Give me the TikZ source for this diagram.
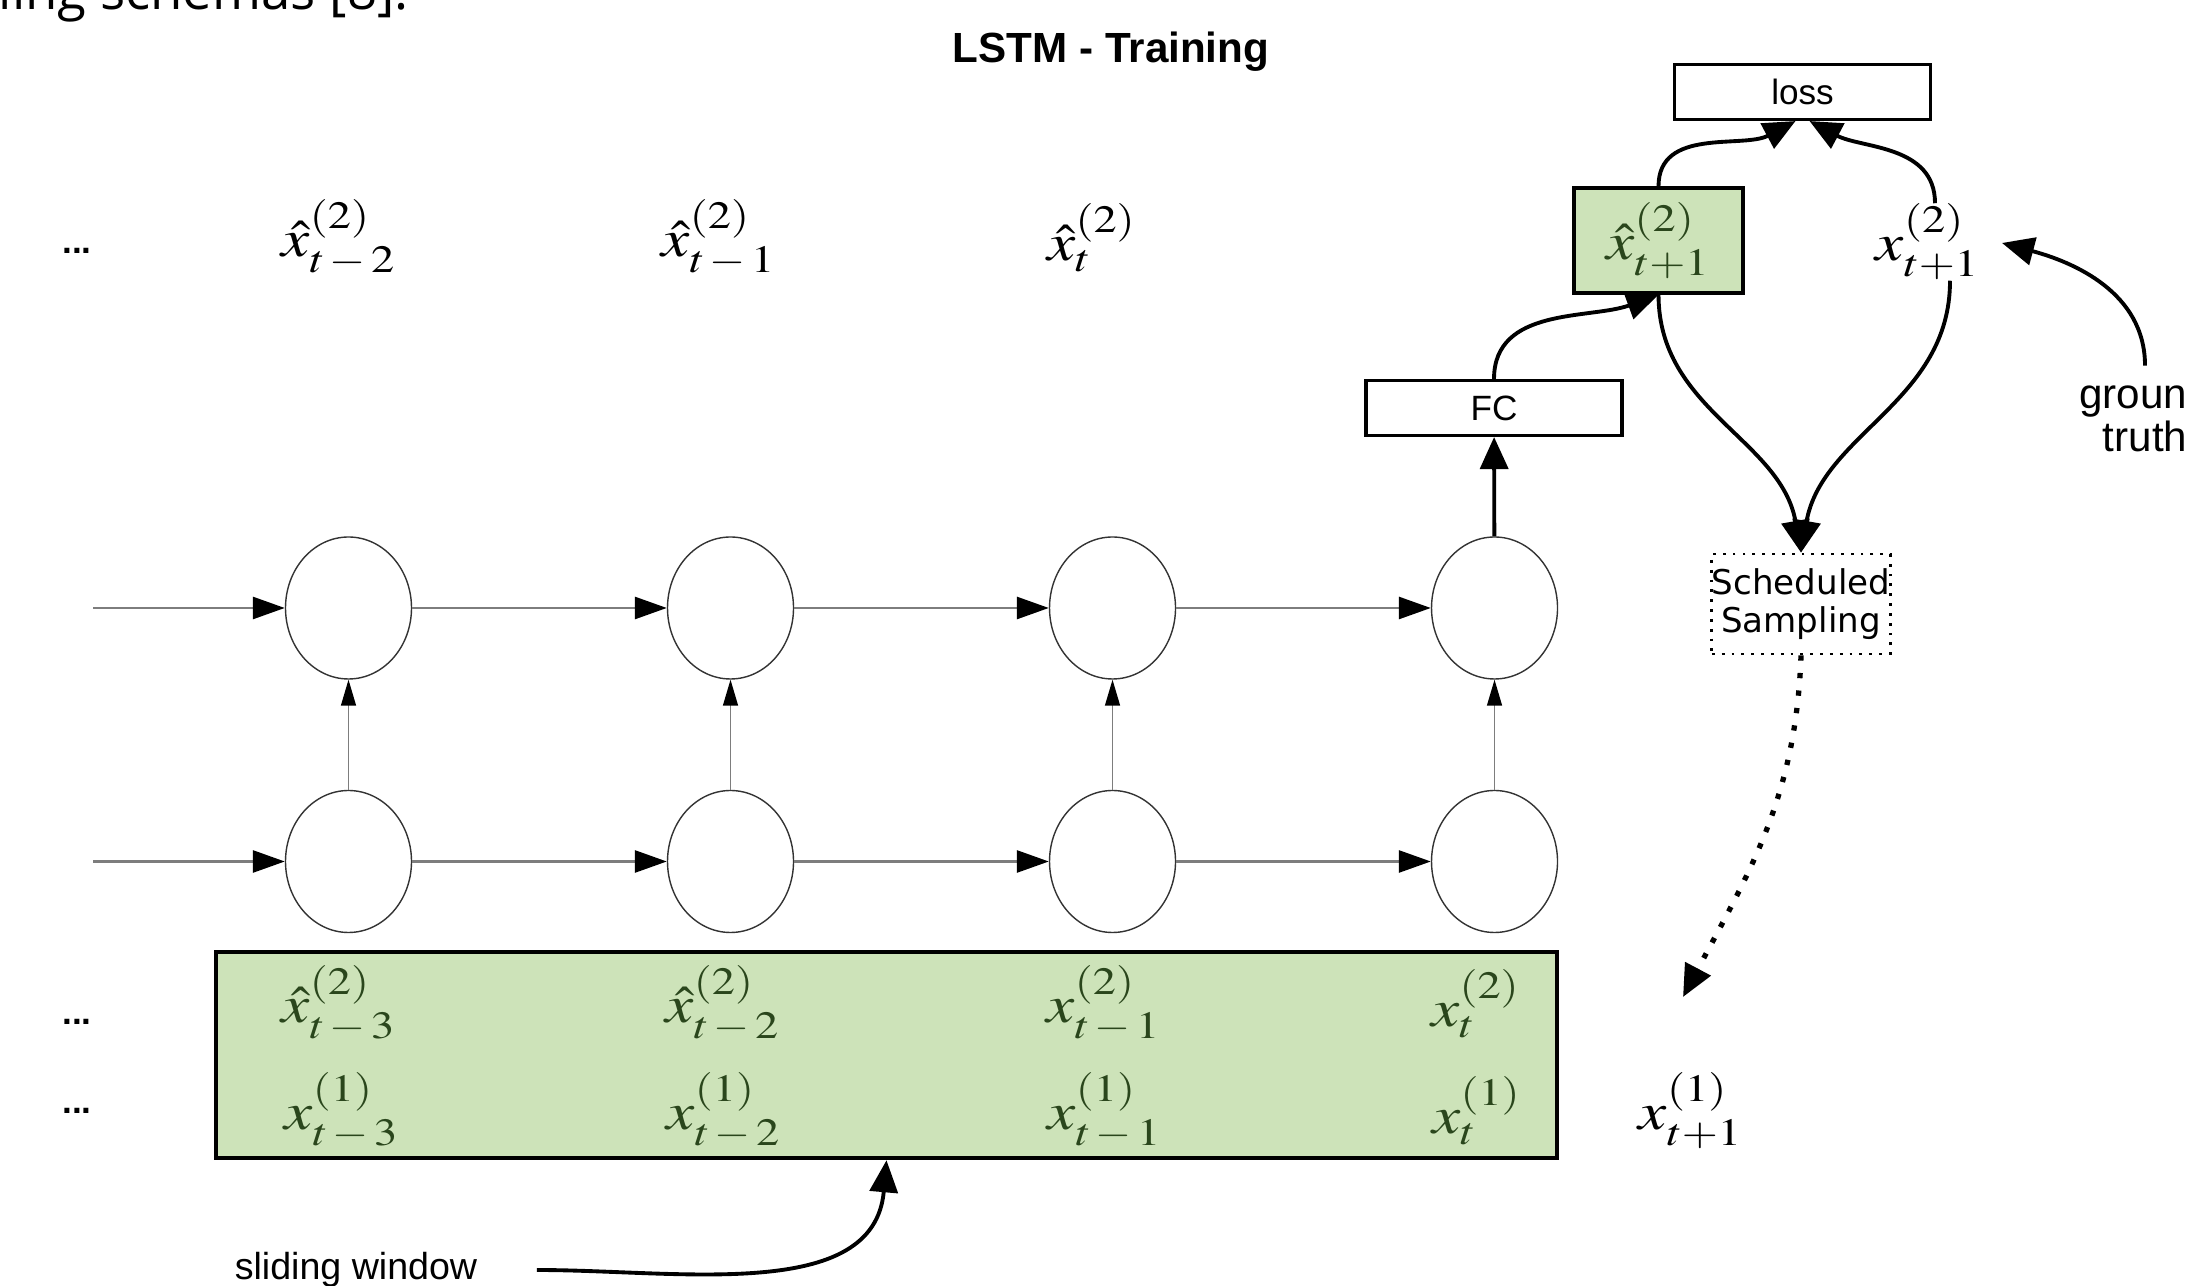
\documentclass[tikz,border=0pt]{standalone}
\usepackage{mathptmx}
\usepackage[no-math]{fontspec}
\setmainfont{Liberation Sans}
\newfontfamily\slidefont{Open Sans}
\newfontfamily\boxfont{DejaVu Sans}
\usepackage{graphicx}
\usetikzlibrary{arrows.meta}
\usetikzlibrary{positioning}
\usetikzlibrary{shapes.geometric}

\DeclareMathSizes{15}{15}{11}{8}

\definecolor{winfill}{RGB}{205,227,185}
\definecolor{wintext}{RGB}{42,70,28}
\definecolor{wire}{RGB}{125,125,125}

\newcommand{\seq}[1]{\scalebox{1.2}[1]{$#1$}}

\tikzstyle{every node}+=[inner sep=0pt]
\tikzstyle{cell} = [ellipse, draw=black!80, line width=0.4pt, minimum width=1.26cm, minimum height=1.42cm]
\tikzstyle{block} = [rectangle, draw, line width=0.9pt, font=\fontsize{10}{12}\selectfont, minimum width=2.56cm, minimum height=0.55cm]
\tikzstyle{pred} = [rectangle, draw, line width=1pt, fill=winfill, text=wintext, font=\fontsize{15}{18}\selectfont, minimum width=1.69cm, minimum height=1.05cm]
\tikzstyle{sampler} = [rectangle, draw, dotted, line width=0.8pt, align=center, font=\boxfont\fontsize{9.7}{11}\selectfont, minimum width=1.75cm, minimum height=1cm]
\tikzstyle{var} = [font=\fontsize{15}{18}\selectfont]
\tikzstyle{winvar} = [var, text=wintext]
\tikzstyle{ellip} = [font=\bfseries\fontsize{10}{12}\selectfont]
\tikzstyle{line} = [draw, wire, line width=0.8pt, -{Triangle[length=0.32cm, width=0.22cm, color=black]}]
\tikzstyle{vline} = [draw, wire, line width=0.4pt, -{Triangle[length=0.26cm, width=0.15cm, color=black]}]
\tikzstyle{flow} = [draw, line width=1.1pt, -{Triangle[length=0.32cm, width=0.28cm]}]

\begin{document}
\begin{tikzpicture}[node distance = 3.82cm, auto]
            \useasboundingbox (0,0) rectangle (21.86,12.85);
            \clip (0,0) rectangle (21.86,12.85);
            % Place nodes
            \node [anchor=base west, font=\slidefont\fontsize{15}{18}\selectfont] (intro) at (-0.02,12.75) {ling schemas [8].};
            \node [font=\bfseries\fontsize{12}{14}\selectfont] (title) at (11.11,12.33) {LSTM - Training};
            % LSTM cells
            \node [cell] (t1) at (3.485,6.77) {};
            \node [cell, right of=t1] (t2) {};
            \node [cell, right of=t2] (t3) {};
            \node [cell, right of=t3] (t4) {};
            \node [cell, below of=t1, node distance=2.535cm] (b1) {};
            \node [cell, right of=b1] (b2) {};
            \node [cell, right of=b2] (b3) {};
            \node [cell, right of=b3] (b4) {};
            \coordinate (tin) at (0.93,6.77);
            \coordinate (bin) at (0.93,4.235);
            % Outputs
            \node [ellip] (odots) at (0.77,10.34) {...};
            \node [var] (o1) at (3.39,10.47) {\seq{\hat{x}^{(2)}_{t\,-\,2}}};
            \node [var] (o2) at (7.19,10.47) {\seq{\hat{x}^{(2)}_{t\,-\,1}}};
            \node [var] (o3) at (10.92,10.47) {\seq{\hat{x}^{(2)}_{t}}};
            \node [block] (fc) at (14.94,8.77) {FC};
            \node [pred] (xhat) at (16.585,10.445) {\seq{\hat{x}^{(2)}_{t+1}}};
            \node [var] (xtwo) at (19.28,10.43) {\seq{x^{(2)}_{t+1}}};
            \node [block] (loss) at (18.025,11.93) {loss};
            \node [sampler] (ss) at (18.01,6.81) {Scheduled\\Sampling};
            \coordinate (sstip) at (16.83,2.88);
            \node [var] (xone) at (16.91,1.74) {\seq{x^{(1)}_{t+1}}};
            \node [align=center, font=\fontsize{12}{12}\selectfont] (gt) at (21.45,8.70) {ground\\truth};
            \coordinate (gttip) at (20.02,10.42);
            % Sliding window
            \node [rectangle, draw, line width=1.3pt, fill=winfill, minimum width=13.41cm, minimum height=2.06cm] (win) at (8.865,2.30) {};
            \node [ellip] (wdots2) at (0.77,2.63) {...};
            \node [ellip] (wdots1) at (0.77,1.74) {...};
            \node [winvar] (w21) at (3.39,2.81) {\seq{\hat{x}^{(2)}_{t\,-\,3}}};
            \node [winvar] (w22) at (7.23,2.81) {\seq{\hat{x}^{(2)}_{t\,-\,2}}};
            \node [winvar] (w23) at (11.04,2.81) {\seq{x^{(2)}_{t\,-\,1}}};
            \node [winvar] (w24) at (14.76,2.81) {\seq{x^{(2)}_{t}}};
            \node [winvar] (w11) at (3.42,1.74) {\seq{x^{(1)}_{t\,-\,3}}};
            \node [winvar] (w12) at (7.24,1.74) {\seq{x^{(1)}_{t\,-\,2}}};
            \node [winvar] (w13) at (11.05,1.74) {\seq{x^{(1)}_{t\,-\,1}}};
            \node [winvar] (w14) at (14.77,1.74) {\seq{x^{(1)}_{t}}};
            \node [font=\fontsize{10.7}{12}\selectfont] (sw) at (3.56,0.15) {sliding window};
            % Draw edges
            \path [line] (tin) -- (t1);
            \path [line] (t1) -- (t2);
            \path [line] (t2) -- (t3);
            \path [line] (t3) -- (t4);
            \path [line] (bin) -- (b1);
            \path [line] (b1) -- (b2);
            \path [line] (b2) -- (b3);
            \path [line] (b3) -- (b4);
            \path [vline] (b1) -- (t1);
            \path [vline] (b2) -- (t2);
            \path [vline] (b3) -- (t3);
            \path [vline] (b4) -- (t4);
            \path [flow] (t4) -- (fc);
            \path [flow] (fc.north) to[out=90, in=200] (xhat.south);
            \path [flow] (xhat.north) to[out=90, in=208] ([xshift=-2pt]loss.south);
            \path [flow] ([xshift=0.07cm]xtwo.north) to[out=90, in=-28] ([xshift=2pt]loss.south);
            \path [flow] (xhat.south) to[out=-90, in=100] (ss.north);
            \path [flow] ([xshift=0.22cm]xtwo.south) to[out=-90, in=80] (ss.north);
            \path [flow, line width=1.5pt, dash pattern=on 1.5pt off 3.5pt] (ss.south) to[out=-92, in=62] (sstip);
            \path [flow] ([yshift=0.12cm]gt.north) to[out=90, in=-15] (gttip);
            \path [flow] ([xshift=0.59cm]sw.east) to[out=0, in=-95] (win.south);
          \end{tikzpicture}
\end{document}
